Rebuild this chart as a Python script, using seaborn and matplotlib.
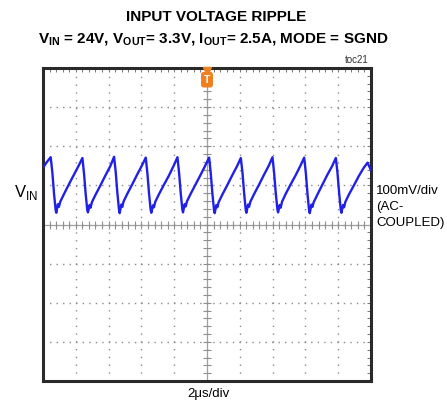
import numpy as np
import seaborn as sns
import matplotlib
matplotlib.use('Agg')
import matplotlib.pyplot as plt

# scope trace (x in divisions, y in divisions from centre)
trace_x = [0.00, 0.12,
           0.235, 0.285, 0.335, 0.385, 0.405, 0.455, 0.485, 0.525, 0.635, 0.785, 0.935, 1.085,
           1.201, 1.251, 1.301, 1.351, 1.371, 1.421, 1.451, 1.491, 1.601, 1.751, 1.901, 2.051,
           2.167, 2.217, 2.267, 2.317, 2.337, 2.387, 2.417, 2.457, 2.567, 2.717, 2.867, 3.017,
           3.133, 3.183, 3.233, 3.283, 3.303, 3.353, 3.383, 3.423, 3.533, 3.683, 3.833, 3.983,
           4.099, 4.149, 4.199, 4.249, 4.269, 4.319, 4.349, 4.389, 4.499, 4.649, 4.799, 4.949,
           5.065, 5.115, 5.165, 5.215, 5.235, 5.285, 5.315, 5.355, 5.465, 5.615, 5.765, 5.915,
           6.031, 6.081, 6.131, 6.181, 6.201, 6.251, 6.281, 6.321, 6.431, 6.581, 6.731, 6.881,
           6.997, 7.047, 7.097, 7.147, 7.167, 7.217, 7.247, 7.287, 7.397, 7.547, 7.697, 7.847,
           7.963, 8.013, 8.063, 8.113, 8.133, 8.183, 8.213, 8.253, 8.363, 8.513, 8.663, 8.813,
           8.929, 8.979, 9.029, 9.079, 9.099, 9.149, 9.179, 9.219, 9.329, 9.479, 9.629, 9.779,
           9.895, 9.95, 10.0]
trace_y = [1.45, 1.60,
           1.72, 1.33, 0.80, 0.37, 0.30, 0.52, 0.45, 0.58, 0.77, 1.02, 1.26, 1.50,
           1.70, 1.30, 0.78, 0.36, 0.31, 0.50, 0.43, 0.57, 0.76, 1.00, 1.25, 1.49,
           1.73, 1.34, 0.81, 0.38, 0.29, 0.51, 0.45, 0.59, 0.78, 1.02, 1.27, 1.51,
           1.71, 1.31, 0.79, 0.37, 0.30, 0.49, 0.44, 0.58, 0.77, 1.01, 1.24, 1.50,
           1.72, 1.32, 0.80, 0.38, 0.31, 0.52, 0.46, 0.59, 0.78, 1.02, 1.26, 1.51,
           1.71, 1.30, 0.79, 0.36, 0.29, 0.50, 0.44, 0.57, 0.76, 1.00, 1.25, 1.49,
           1.70, 1.33, 0.81, 0.37, 0.30, 0.51, 0.45, 0.58, 0.77, 1.01, 1.26, 1.50,
           1.72, 1.31, 0.80, 0.38, 0.31, 0.50, 0.43, 0.58, 0.78, 1.02, 1.25, 1.50,
           1.71, 1.32, 0.79, 0.36, 0.29, 0.51, 0.45, 0.57, 0.76, 1.01, 1.26, 1.49,
           1.70, 1.31, 0.80, 0.37, 0.30, 0.50, 0.44, 0.58, 0.77, 1.00, 1.24, 1.45,
           1.58, 1.48, 1.38]

n_xdiv = 10
n_ydiv = 8
trigger_x = 5.0

sns.set_style('white')
plt.rcParams['mathtext.fontset'] = 'custom'
plt.rcParams['mathtext.rm'] = 'Liberation Sans'
plt.rcParams['mathtext.bf'] = 'Liberation Sans:bold'
plt.rcParams['font.family'] = ['Liberation Sans', 'DejaVu Sans']
plt.rcParams['text.color'] = 'black'

fig = plt.figure(figsize=(4.47, 4.05), dpi=100)
ax = fig.add_axes([43/447, 1-381/405, 328/447, 313/405])

# graticule
for gx in range(1, n_xdiv):
    ax.axvline(gx, color='#8a8a8a', lw=1, ls=(0, (1, 4.6)), zorder=1)
for gy in range(-3, 4):
    ax.axhline(gy, color='#8a8a8a', lw=1, ls=(0, (1, 3.7)), zorder=1)
ax.axhline(0, color='#a0a0a0', lw=0.9, zorder=1)
ax.axvline(trigger_x, color='#a0a0a0', lw=0.9, zorder=1)
mx = np.arange(0, n_xdiv + 0.01, 0.2)
my = np.arange(-4, 4.01, 0.2)
ax.plot(mx, np.zeros_like(mx), ls='none', marker='|', ms=5.5, mew=0.8, color='#909090', zorder=1)
ax.plot(np.full_like(my, trigger_x), my, ls='none', marker='_', ms=5.5, mew=0.8, color='#909090', zorder=1)

sns.lineplot(x=trace_x, y=trace_y, ax=ax, color='#2020e6', lw=1.7, estimator=None, zorder=3)

ax.set_xlim(0, n_xdiv)
ax.set_ylim(-n_ydiv/2, n_ydiv/2)
ax.set_xticks(np.arange(0, n_xdiv + 0.01, 0.2))
ax.set_yticks(np.arange(-4, 4.01, 0.2))
ax.tick_params(direction='in', length=3, width=0.7, colors='#777777', top=True, right=True,
               labelbottom=False, labelleft=False)
for s in ax.spines.values():
    s.set_linewidth(2.2)
    s.set_color('#2a2a2a')

# trigger marker
ax.plot([trigger_x], [3.93], marker='v', ms=6, color='#f0801e', clip_on=False, zorder=5)
ax.text(trigger_x, 3.7, 'T', ha='center', va='center', color='white', fontsize=7.5, fontweight='bold',
        bbox=dict(boxstyle='round,pad=0.2', fc='#f0801e', ec='#f0801e'), zorder=6)

fig.text(216/447, 1-17/405, 'INPUT VOLTAGE RIPPLE', ha='center', va='center',
         fontsize=11, fontweight='bold')
fig.text(213/447, 1-40/405,
         r'V$_\mathbf{IN}$ = 24V, V$_\mathbf{OUT}$= 3.3V, I$_\mathbf{OUT}$= 2.5A, MODE = SGND',
         ha='center', va='center', fontsize=11, fontweight='bold')
fig.text(369/447, 1-60/405, 'toc21', ha='right', va='center', fontsize=7, color='#333333')
fig.text(14/447, 1-193/405, r'V$_{\mathrm{IN}}$', ha='left', va='center', fontsize=12)
fig.text(376/447, 1-207/405, '100mV/div\n(AC-\nCOUPLED)', ha='left', va='center', fontsize=9.5,
         linespacing=1.45)
fig.text(208/447, 1-394/405, '2\u03bcs/div', ha='center', va='center', fontsize=9.5)

plt.savefig('out.png', dpi=100)
